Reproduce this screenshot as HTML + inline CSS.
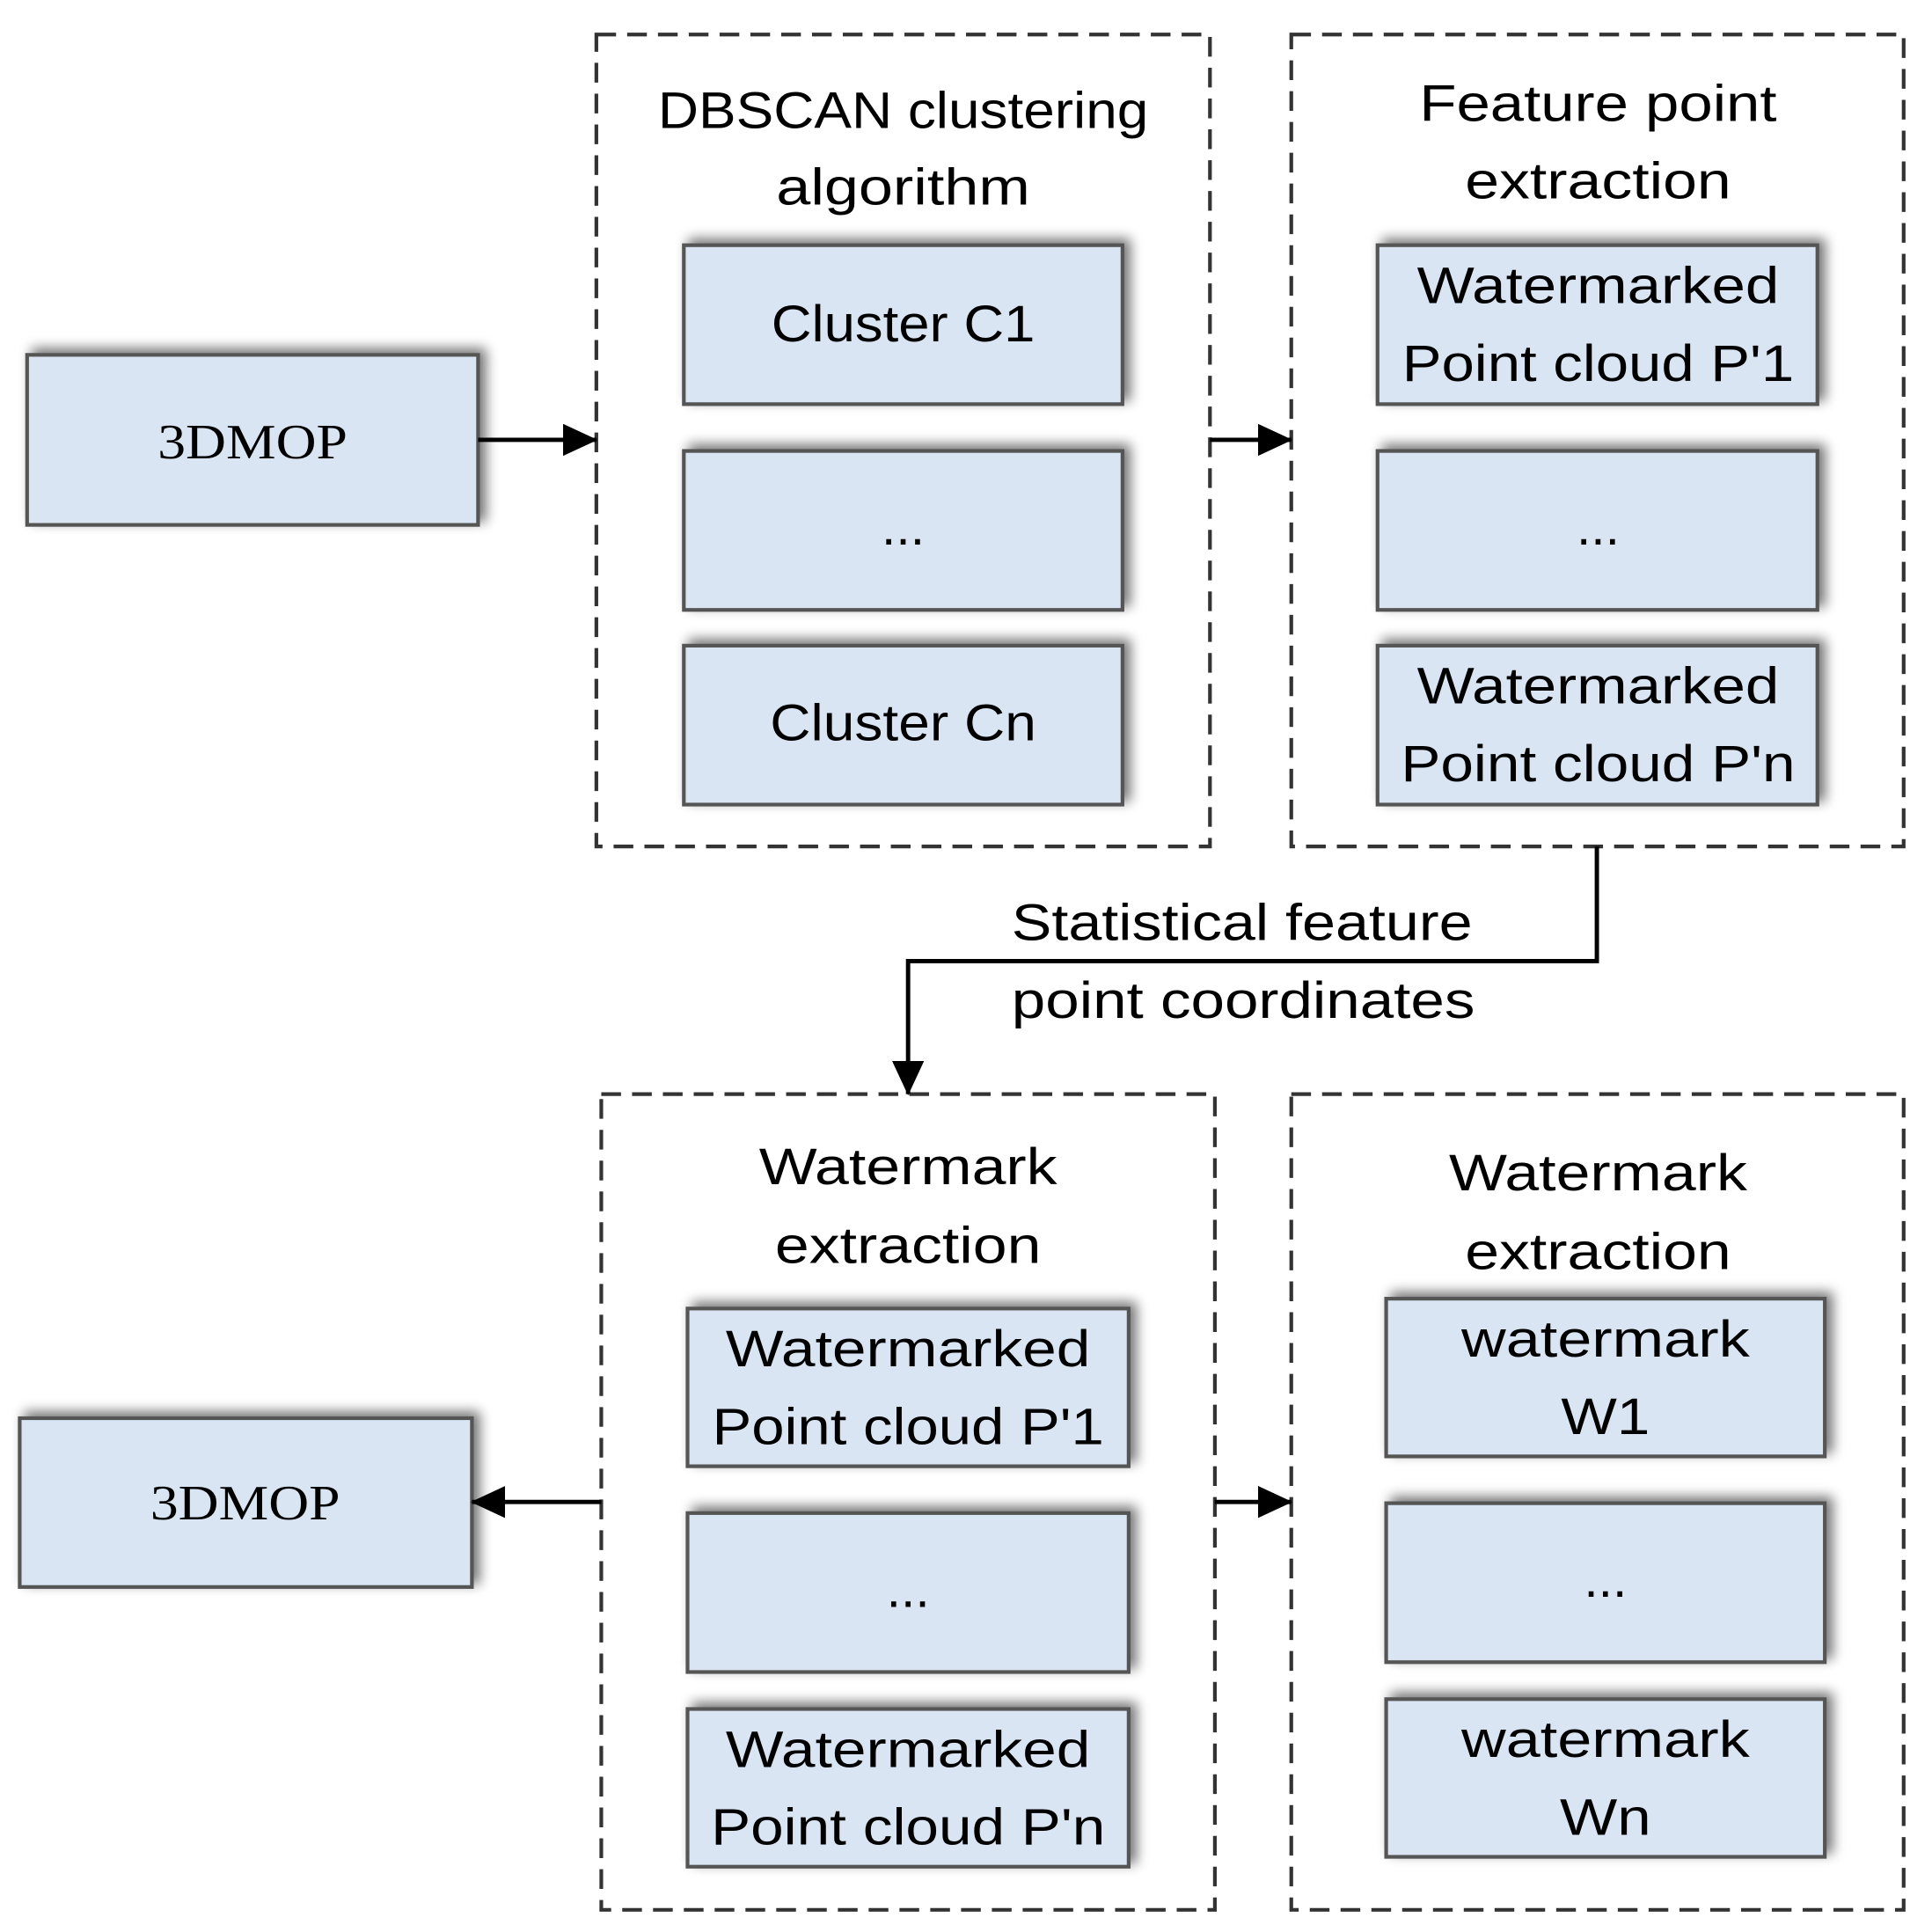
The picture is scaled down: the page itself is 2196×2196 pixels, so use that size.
<!DOCTYPE html>
<html><head><style>html,body{margin:0;padding:0;background:#fff}svg{display:block}</style></head>
<body>
<svg width="2196" height="2196" viewBox="0 0 1568 1568" xmlns="http://www.w3.org/2000/svg">
<defs>
<filter id="sh" x="-10%" y="-20%" width="125%" height="140%">
<feGaussianBlur in="SourceAlpha" stdDeviation="5"/>
<feOffset dx="5" dy="-4"/>
<feComponentTransfer><feFuncA type="linear" slope="0.55"/></feComponentTransfer>
<feMerge><feMergeNode/><feMergeNode in="SourceGraphic"/></feMerge>
</filter>
<marker id="ah" markerWidth="28" markerHeight="26" refX="27" refY="13" orient="auto" markerUnits="userSpaceOnUse" viewBox="0 0 28 26">
<path d="M0,0 L28,13 L0,26 z" fill="#000"/>
</marker>
</defs>
<g fill="none" stroke="#333" stroke-width="3" stroke-dasharray="16,9">
<rect x="484" y="28" width="498" height="659"/>
<rect x="1048" y="28" width="497" height="659"/>
<rect x="488" y="888" width="498" height="662"/>
<rect x="1048" y="888" width="497" height="662"/>
</g>
<g fill="#dae5f3" stroke="#555" stroke-width="3" filter="url(#sh)">
<rect x="22" y="288" width="366" height="138"/>
<rect x="555" y="199" width="356" height="129"/>
<rect x="555" y="366" width="356" height="129"/>
<rect x="555" y="524" width="356" height="129"/>
<rect x="1118" y="199" width="357" height="129"/>
<rect x="1118" y="366" width="357" height="129"/>
<rect x="1118" y="524" width="357" height="129"/>
<rect x="16" y="1151" width="367" height="137"/>
<rect x="558" y="1062" width="358" height="128"/>
<rect x="558" y="1228" width="358" height="129"/>
<rect x="558" y="1387" width="358" height="128"/>
<rect x="1125" y="1054" width="356" height="128"/>
<rect x="1125" y="1220" width="356" height="129"/>
<rect x="1125" y="1379" width="356" height="128"/>
</g>
<g stroke="#000" stroke-width="3.5" fill="none">
<line x1="388" y1="357" x2="484" y2="357" marker-end="url(#ah)"/>
<line x1="982" y1="357" x2="1048" y2="357" marker-end="url(#ah)"/>
<polyline points="1296,687 1296,780 737,780 737,888" marker-end="url(#ah)"/>
<line x1="488" y1="1219" x2="383" y2="1219" marker-end="url(#ah)"/>
<line x1="986" y1="1219" x2="1048" y2="1219" marker-end="url(#ah)"/>
</g>
<g font-family="Liberation Sans, sans-serif" font-size="42" fill="#000" text-anchor="middle">
<text x="733" y="104" textLength="398" lengthAdjust="spacingAndGlyphs">DBSCAN clustering</text>
<text x="733" y="166" textLength="206" lengthAdjust="spacingAndGlyphs">algorithm</text>
<text x="1297" y="98" textLength="290" lengthAdjust="spacingAndGlyphs">Feature point</text>
<text x="1297" y="161" textLength="216" lengthAdjust="spacingAndGlyphs">extraction</text>
<text x="733" y="277" textLength="214" lengthAdjust="spacingAndGlyphs">Cluster C1</text>
<text x="733" y="442">...</text>
<text x="733" y="601" textLength="216" lengthAdjust="spacingAndGlyphs">Cluster Cn</text>
<text x="1297" y="246" textLength="294" lengthAdjust="spacingAndGlyphs">Watermarked</text>
<text x="1297" y="309" textLength="318" lengthAdjust="spacingAndGlyphs">Point cloud P'1</text>
<text x="1297" y="442">...</text>
<text x="1297" y="571" textLength="294" lengthAdjust="spacingAndGlyphs">Watermarked</text>
<text x="1297" y="634" textLength="320" lengthAdjust="spacingAndGlyphs">Point cloud P'n</text>
<text x="1008" y="763" textLength="374" lengthAdjust="spacingAndGlyphs">Statistical feature</text>
<text x="1009" y="826" textLength="376" lengthAdjust="spacingAndGlyphs">point coordinates</text>
<text x="737" y="961" textLength="242" lengthAdjust="spacingAndGlyphs">Watermark</text>
<text x="737" y="1025" textLength="216" lengthAdjust="spacingAndGlyphs">extraction</text>
<text x="1297" y="966" textLength="242" lengthAdjust="spacingAndGlyphs">Watermark</text>
<text x="1297" y="1030" textLength="216" lengthAdjust="spacingAndGlyphs">extraction</text>
<text x="737" y="1109" textLength="296" lengthAdjust="spacingAndGlyphs">Watermarked</text>
<text x="737" y="1172" textLength="318" lengthAdjust="spacingAndGlyphs">Point cloud P'1</text>
<text x="737" y="1304">...</text>
<text x="737" y="1434" textLength="296" lengthAdjust="spacingAndGlyphs">Watermarked</text>
<text x="737" y="1497" textLength="320" lengthAdjust="spacingAndGlyphs">Point cloud P'n</text>
<text x="1303" y="1101" textLength="234" lengthAdjust="spacingAndGlyphs">watermark</text>
<text x="1303" y="1164" textLength="72" lengthAdjust="spacingAndGlyphs">W1</text>
<text x="1303" y="1296">...</text>
<text x="1303" y="1426" textLength="234" lengthAdjust="spacingAndGlyphs">watermark</text>
<text x="1303" y="1489" textLength="74" lengthAdjust="spacingAndGlyphs">Wn</text>
</g>
<g font-family="Liberation Serif, serif" font-size="40" fill="#000" text-anchor="middle">
<text x="205" y="372" textLength="154" lengthAdjust="spacingAndGlyphs">3DMOP</text>
<text x="199" y="1233" textLength="154" lengthAdjust="spacingAndGlyphs">3DMOP</text>
</g>
</svg>
</body></html>
